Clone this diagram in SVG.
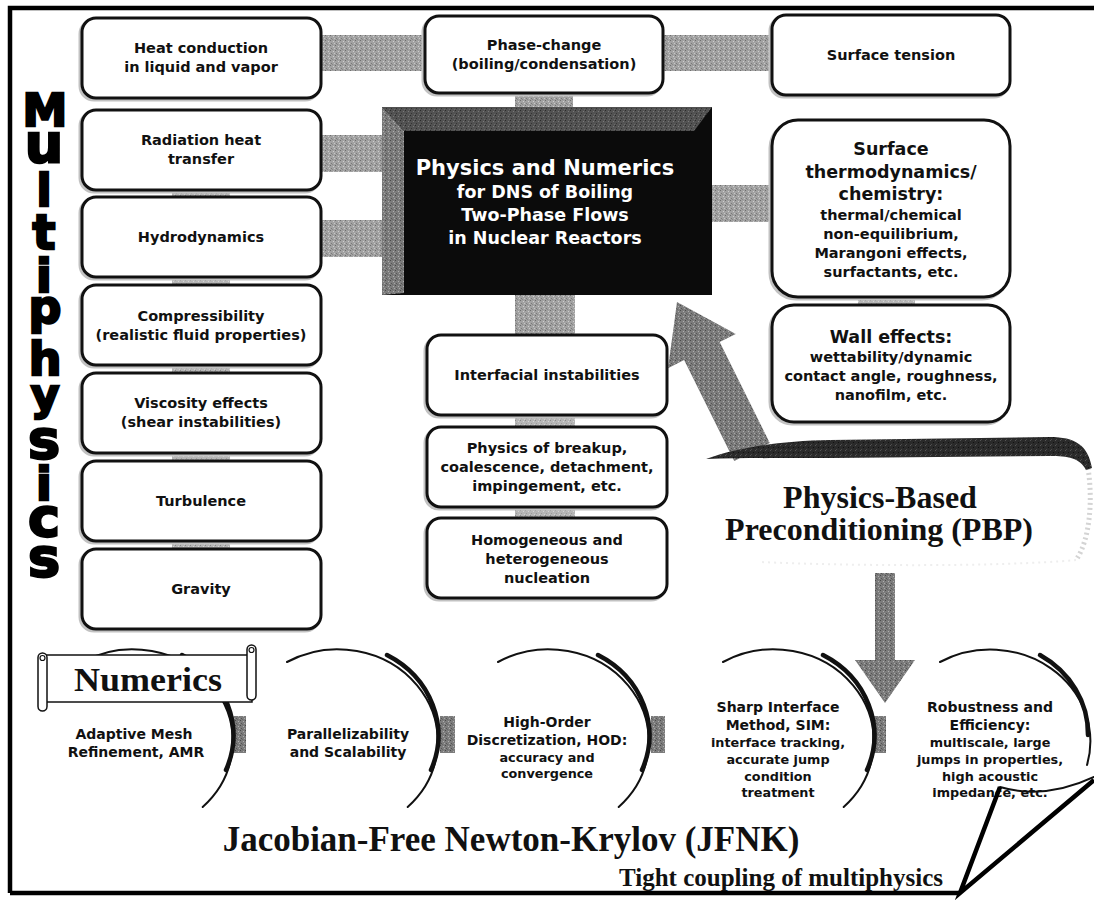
<svg xmlns="http://www.w3.org/2000/svg" width="1094" height="902" viewBox="0 0 1094 902">
<defs>
<style>
.box{fill:#fff;stroke:#111;stroke-width:3}
.sh{fill:none;stroke:#c2c2c2;stroke-width:3}
.t{font-family:"DejaVu Sans",sans-serif;font-weight:bold;font-size:14.5px;text-anchor:middle;fill:#111}
.t.tl{font-size:17.5px}
.t.c1{font-size:21px;fill:#fff}
.t.c2{font-size:17.5px;fill:#fff}
.ch{font-family:"DejaVu Sans",sans-serif;font-weight:bold;font-size:14px;text-anchor:middle;fill:#111}
.ch.cs{font-size:12.8px}
.sf{font-family:"Liberation Serif",serif;font-weight:bold;text-anchor:middle;fill:#111}
.mp{font-family:"DejaVu Sans",sans-serif;font-weight:bold;text-anchor:middle;fill:#000;stroke:#000;stroke-width:2.4}
.arc{fill:none;stroke:#111;stroke-width:2;stroke-linecap:round}
.arcb{fill:none;stroke:#111;stroke-width:4.5;stroke-linecap:round}
.frame{fill:none;stroke:#000;stroke-width:4.5;stroke-linejoin:miter}
</style>
<pattern id="texL" width="5" height="5" patternUnits="userSpaceOnUse">
<rect width="5" height="5" fill="#b6b6b6"/>
<rect x="0" y="0" width="1" height="1" fill="#8a8a8a"/>
<rect x="3" y="1" width="1" height="1" fill="#d6d6d6"/>
<rect x="1" y="3" width="1" height="1" fill="#9a9a9a"/>
<rect x="4" y="4" width="1" height="1" fill="#d0d0d0"/>
</pattern>
<pattern id="texM" width="5" height="5" patternUnits="userSpaceOnUse">
<rect width="5" height="5" fill="#a2a2a2"/>
<rect x="0" y="0" width="1" height="1" fill="#6e6e6e"/>
<rect x="3" y="1" width="1" height="1" fill="#cfcfcf"/>
<rect x="1" y="3" width="1" height="1" fill="#7a7a7a"/>
<rect x="4" y="3" width="1" height="1" fill="#c8c8c8"/>
<rect x="2" y="4" width="1" height="1" fill="#888"/>
</pattern>
<pattern id="texD" width="5" height="5" patternUnits="userSpaceOnUse">
<rect width="5" height="5" fill="#7c7c7c"/>
<rect x="0" y="0" width="1" height="1" fill="#4a4a4a"/>
<rect x="3" y="1" width="1" height="1" fill="#b0b0b0"/>
<rect x="1" y="3" width="1" height="1" fill="#555"/>
<rect x="4" y="3" width="1" height="1" fill="#a8a8a8"/>
<rect x="2" y="4" width="1" height="1" fill="#666"/>
</pattern>
<pattern id="texK" width="5" height="5" patternUnits="userSpaceOnUse">
<rect width="5" height="5" fill="#2a2a2a"/>
<rect x="0" y="0" width="1" height="1" fill="#555"/>
<rect x="3" y="2" width="1" height="1" fill="#111"/>
<rect x="1" y="4" width="1" height="1" fill="#4a4a4a"/>
</pattern>
<pattern id="texB" width="5" height="5" patternUnits="userSpaceOnUse">
<rect width="5" height="5" fill="#525252"/>
<rect x="0" y="0" width="1" height="1" fill="#2a2a2a"/>
<rect x="3" y="1" width="1" height="1" fill="#7a7a7a"/>
<rect x="1" y="3" width="1" height="1" fill="#333"/>
<rect x="4" y="4" width="1" height="1" fill="#6a6a6a"/>
</pattern>
</defs>

<rect width="1094" height="902" fill="#fff"/>

<g id="frame">
<path class="frame" d="M10,893 V8 H1094"/>
<path class="frame" d="M10,893 H960"/>
</g>

<g id="multiphysics-label">
<text class="mp"><tspan x="45" y="126" font-size="45">M</tspan><tspan x="44" y="162" font-size="54">u</tspan><tspan x="44" y="206" font-size="44">l</tspan><tspan x="44" y="249" font-size="48">t</tspan><tspan x="44" y="292" font-size="46">i</tspan><tspan x="45" y="323" font-size="46">p</tspan><tspan x="45" y="375" font-size="46">h</tspan><tspan x="45" y="410" font-size="44">y</tspan><tspan x="44" y="458" font-size="54">s</tspan><tspan x="44" y="500" font-size="46">i</tspan><tspan x="44" y="536" font-size="54">c</tspan><tspan x="44" y="576" font-size="54">s</tspan></text>
</g>

<g id="connectors">
<rect x="318" y="35" width="110" height="36" fill="url(#texM)"/>
<rect x="660" y="35" width="115" height="36" fill="url(#texM)"/>
<rect x="318" y="135" width="67" height="37" fill="url(#texM)"/>
<rect x="318" y="220" width="67" height="37" fill="url(#texM)"/>
<rect x="710" y="185" width="65" height="37" fill="url(#texM)"/>
<rect x="515" y="91" width="58" height="18" fill="url(#texM)"/>
<rect x="515" y="293" width="60" height="44" fill="url(#texM)"/>
<rect x="515" y="413" width="60" height="16" fill="url(#texL)"/>
<rect x="515" y="505" width="60" height="15" fill="url(#texL)"/>
<rect x="858" y="295" width="57" height="12" fill="url(#texL)"/>
<rect x="172" y="187" width="58" height="12" fill="url(#texL)"/>
<rect x="172" y="275" width="58" height="12" fill="url(#texL)"/>
<rect x="172" y="363" width="58" height="12" fill="url(#texL)"/>
<rect x="172" y="451" width="58" height="12" fill="url(#texL)"/>
<rect x="172" y="539" width="58" height="12" fill="url(#texL)"/>
<polygon points="677,302 735.8,333.9 719.7,342.1 769.8,443 734.2,461 684.1,360.1 668,368.3" fill="url(#texD)"/>
<polygon points="875,573 895,573 895,660 915,660 885,703 855,660 875,660" fill="url(#texD)"/>
<rect x="232" y="716" width="14" height="37" fill="url(#texD)"/>
<rect x="440" y="716" width="15" height="37" fill="url(#texD)"/>
<rect x="651" y="716" width="14" height="37" fill="url(#texD)"/>
<rect x="872" y="716" width="14" height="37" fill="url(#texD)"/>
</g>

<g id="node-heat">
<rect class="sh" x="80" y="20" width="239" height="80" rx="14"/>
<rect class="box" x="82" y="18" width="239" height="80" rx="14"/>
<text class="t" x="201" y="53">Heat conduction</text>
<text class="t" x="201" y="72">in liquid and vapor</text>
</g>
<g id="node-radiation">
<rect class="sh" x="80" y="112" width="239" height="80" rx="14"/>
<rect class="box" x="82" y="110" width="239" height="80" rx="14"/>
<text class="t" x="201" y="145">Radiation heat</text>
<text class="t" x="201" y="164">transfer</text>
</g>
<g id="node-hydro">
<rect class="sh" x="80" y="199" width="239" height="80" rx="14"/>
<rect class="box" x="82" y="197" width="239" height="80" rx="14"/>
<text class="t" x="201" y="242">Hydrodynamics</text>
</g>
<g id="node-compress">
<rect class="sh" x="80" y="287" width="239" height="80" rx="14"/>
<rect class="box" x="82" y="285" width="239" height="80" rx="14"/>
<text class="t" x="201" y="321">Compressibility</text>
<text class="t" x="201" y="340">(realistic fluid properties)</text>
</g>
<g id="node-viscosity">
<rect class="sh" x="80" y="375" width="239" height="80" rx="14"/>
<rect class="box" x="82" y="373" width="239" height="80" rx="14"/>
<text class="t" x="201" y="408">Viscosity effects</text>
<text class="t" x="201" y="427">(shear instabilities)</text>
</g>
<g id="node-turbulence">
<rect class="sh" x="80" y="463" width="239" height="80" rx="14"/>
<rect class="box" x="82" y="461" width="239" height="80" rx="14"/>
<text class="t" x="201" y="506">Turbulence</text>
</g>
<g id="node-gravity">
<rect class="sh" x="80" y="551" width="239" height="80" rx="14"/>
<rect class="box" x="82" y="549" width="239" height="80" rx="14"/>
<text class="t" x="201" y="594">Gravity</text>
</g>

<g id="node-phase">
<rect class="sh" x="423" y="18" width="238" height="77" rx="14"/>
<rect class="box" x="425" y="16" width="238" height="77" rx="14"/>
<text class="t" x="544" y="50">Phase-change</text>
<text class="t" x="544" y="69">(boiling/condensation)</text>
</g>
<g id="node-tension">
<rect class="sh" x="770" y="17" width="238" height="80" rx="14"/>
<rect class="box" x="772" y="15" width="238" height="80" rx="14"/>
<text class="t" x="891" y="60">Surface tension</text>
</g>
<g id="node-thermo">
<rect class="sh" x="770" y="122" width="238" height="177" rx="26"/>
<rect class="box" x="772" y="120" width="238" height="177" rx="26"/>
<text class="t tl" x="891" y="155">Surface</text>
<text class="t tl" x="891" y="178">thermodynamics/</text>
<text class="t tl" x="891" y="200">chemistry:</text>
<text class="t" x="891" y="220">thermal/chemical</text>
<text class="t" x="891" y="239">non-equilibrium,</text>
<text class="t" x="891" y="258">Marangoni effects,</text>
<text class="t" x="891" y="277">surfactants, etc.</text>
</g>
<g id="node-wall">
<rect class="sh" x="770" y="307" width="238" height="117" rx="22"/>
<rect class="box" x="772" y="305" width="238" height="117" rx="22"/>
<text class="t tl" x="891" y="343">Wall effects:</text>
<text class="t" x="891" y="362">wettability/dynamic</text>
<text class="t" x="891" y="381">contact angle, roughness,</text>
<text class="t" x="891" y="400">nanofilm, etc.</text>
</g>

<g id="node-center">
<rect x="382" y="107" width="330" height="188" fill="#0b0b0b"/>
<polygon points="382,107 712,107 694,131 404,131" fill="url(#texB)"/>
<polygon points="382,107 404,131 404,293 382,295" fill="url(#texD)"/>
<text class="t c1" x="545" y="175">Physics and Numerics</text>
<text class="t c2" x="545" y="198">for DNS of Boiling</text>
<text class="t c2" x="545" y="221">Two-Phase Flows</text>
<text class="t c2" x="545" y="244">in Nuclear Reactors</text>
</g>

<g id="node-interfacial">
<rect class="sh" x="425" y="337" width="240" height="80" rx="14"/>
<rect class="box" x="427" y="335" width="240" height="80" rx="14"/>
<text class="t" x="547" y="380">Interfacial instabilities</text>
</g>
<g id="node-breakup">
<rect class="sh" x="425" y="429" width="240" height="80" rx="14"/>
<rect class="box" x="427" y="427" width="240" height="80" rx="14"/>
<text class="t" x="547" y="453">Physics of breakup,</text>
<text class="t" x="547" y="472">coalescence, detachment,</text>
<text class="t" x="547" y="491">impingement, etc.</text>
</g>
<g id="node-nucleation">
<rect class="sh" x="425" y="520" width="240" height="80" rx="14"/>
<rect class="box" x="427" y="518" width="240" height="80" rx="14"/>
<text class="t" x="547" y="545">Homogeneous and</text>
<text class="t" x="547" y="564">heterogeneous</text>
<text class="t" x="547" y="583">nucleation</text>
</g>

<g id="node-pbp">
<path d="M1088,468 C1093,500 1090,540 1076,560" fill="none" stroke="#d4d4d4" stroke-width="5" stroke-dasharray="2 3"/>
<path d="M1076,560 C1000,567 850,566 760,562" fill="none" stroke="#eeeeee" stroke-width="2" stroke-dasharray="2 4"/>
<path d="M706,459 C740,447 780,441 830,440 L1050,437 C1075,437 1088,445 1092,468 L1086,470 C1080,458 1068,456 1050,456 L830,458 C780,458 745,458 706,459 Z" fill="url(#texK)"/>
<text class="sf" x="880" y="508" font-size="32">Physics-Based</text>
<text class="sf" x="879" y="540" font-size="32">Preconditioning (PBP)</text>
</g>

<g id="node-amr">
<path class="arc" d="M82,662 A100 92 0 0 1 202.7,807"/>
<path class="arcb" d="M182,655 A100 92 0 0 1 226,770"/>
<text class="ch" x="134" y="739">Adaptive Mesh</text>
<text class="ch" x="136" y="757">Refinement, AMR</text>
</g>
<g id="node-numerics-label">
<rect x="45" y="655" width="207" height="47" fill="#fff" stroke="#111" stroke-width="1.5"/>
<rect x="38" y="653" width="9" height="58" rx="4.5" fill="#fff" stroke="#111" stroke-width="1.5"/>
<circle cx="42.5" cy="658" r="2.5" fill="none" stroke="#111" stroke-width="1.2"/>
<rect x="247" y="645" width="9" height="55" rx="4.5" fill="#fff" stroke="#111" stroke-width="1.5"/>
<circle cx="251.5" cy="650" r="2.5" fill="none" stroke="#111" stroke-width="1.2"/>
<text class="sf" x="148" y="691" font-size="34" textLength="148" lengthAdjust="spacingAndGlyphs">Numerics</text>
</g>
<g id="node-parallel">
<path class="arc" d="M287,662 A100 92 0 0 1 407.7,807"/>
<path class="arcb" d="M387,655 A100 92 0 0 1 431,770"/>
<text class="ch" x="348" y="739">Parallelizability</text>
<text class="ch" x="348" y="757">and Scalability</text>
</g>
<g id="node-hod">
<path class="arc" d="M498,662 A100 92 0 0 1 618.7,807"/>
<path class="arcb" d="M598,655 A100 92 0 0 1 642,770"/>
<text class="ch" x="547" y="727">High-Order</text>
<text class="ch" x="547" y="745">Discretization, HOD:</text>
<text class="ch cs" x="547" y="762">accuracy and</text>
<text class="ch cs" x="547" y="778">convergence</text>
</g>
<g id="node-sim">
<path class="arc" d="M723,662 A100 92 0 0 1 843.7,807"/>
<path class="arcb" d="M823,655 A100 92 0 0 1 867,770"/>
<text class="ch" x="778" y="712">Sharp Interface</text>
<text class="ch" x="778" y="730">Method, SIM:</text>
<text class="ch cs" x="778" y="747">interface tracking,</text>
<text class="ch cs" x="778" y="764">accurate jump</text>
<text class="ch cs" x="778" y="781">condition</text>
<text class="ch cs" x="778" y="797">treatment</text>
</g>
<g id="node-robust">
<path class="arc" d="M940,662 A100 92 0 0 1 1087,765"/>
<path class="arcb" d="M1040,655 A100 92 0 0 1 1088,735"/>
<path class="arc" d="M1000,787 Q1045,800 1094,777"/>
<text class="ch" x="990" y="712">Robustness and</text>
<text class="ch" x="990" y="730">Efficiency:</text>
<text class="ch cs" x="990" y="747">multiscale, large</text>
<text class="ch cs" x="990" y="764">jumps in properties,</text>
<text class="ch cs" x="990" y="781">high acoustic</text>
<text class="ch cs" x="990" y="797">impedance, etc.</text>
</g>

<g id="page-curl">
<path d="M1000,787 L960,893 L1094,780" fill="none" stroke="#000" stroke-width="4.5" stroke-linejoin="miter"/>
</g>

<g id="node-jfnk">
<text class="sf" x="511" y="851" font-size="35">Jacobian-Free Newton-Krylov (JFNK)</text>
<text class="sf" x="781" y="886" font-size="25">Tight coupling of multiphysics</text>
</g>
</svg>
